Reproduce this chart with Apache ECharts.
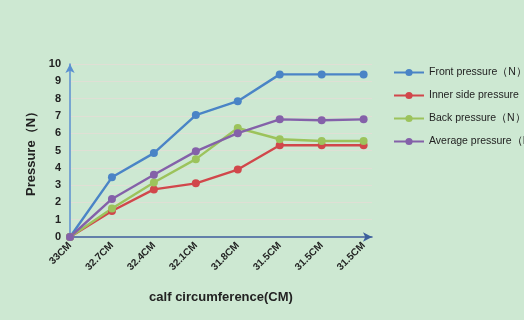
<!DOCTYPE html>
<html>
<head>
<meta charset="utf-8">
<style>
  html, body { margin: 0; padding: 0; background: #cde8d2; }
  #chart { width: 524px; height: 320px; }
</style>
<script src="https://cdn.jsdelivr.net/npm/echarts@6/dist/echarts.min.js"></script>
</head>
<body>
<div id="chart"></div>
<script>
// Calf circumference steps (x axis) and measured pressures (N)
const categories = ['33CM', '32.7CM', '32.4CM', '32.1CM', '31.8CM', '31.5CM', '31.5CM', '31.5CM'];
const frontPressure   = [0, 3.45, 4.85, 7.05, 7.85, 9.4, 9.4, 9.4];
const innerPressure   = [0, 1.5, 2.75, 3.1, 3.9, 5.3, 5.3, 5.3];
const backPressure    = [0, 1.65, 3.15, 4.5, 6.3, 5.65, 5.55, 5.55];
const averagePressure = [0, 2.2, 3.6, 4.95, 6.0, 6.8, 6.75, 6.8];
const yTicks = [0, 1, 2, 3, 4, 5, 6, 7, 8, 9, 10];

const seriesDefs = [
  { name: 'Front pressure（N）', data: frontPressure, color: '#4a84c6' },
  { name: 'Inner side pressure（N）', data: innerPressure, color: '#d1474b' },
  { name: 'Back pressure（N）', data: backPressure, color: '#9cc35c' },
  { name: 'Average pressure（N）', data: averagePressure, color: '#8461a9' }
];

const font = 'Liberation Sans, Arial, sans-serif';
const chart = echarts.init(document.getElementById('chart'), null, { renderer: 'canvas' });

chart.setOption({
  backgroundColor: '#cde8d2',
  animation: false,
  textStyle: { fontFamily: font },
  legend: {
    orient: 'vertical',
    left: 388,
    top: 62,
    itemWidth: 30,
    itemHeight: 9,
    itemGap: 12,
    textStyle: { fontSize: 10.5, color: '#222', fontFamily: font },
    data: seriesDefs.map(s => s.name)
  },
  grid: { left: 70, top: 64, right: 152, bottom: 83, containLabel: false },
  xAxis: {
    type: 'value',
    min: 0,
    max: 7.2,
    interval: 1,
    name: 'calf circumference(CM)',
    nameLocation: 'middle',
    nameGap: 54,
    nameTextStyle: { fontSize: 13, fontWeight: 'bold', color: '#222', fontFamily: font },
    axisLine: { show: true, symbol: ['none', 'arrow'], symbolSize: [7, 9], lineStyle: { color: '#3c5f9c', width: 1.5 } },
    axisTick: { show: false },
    splitLine: { show: false },
    axisLabel: {
      rotate: 45,
      fontSize: 10,
      fontWeight: 'bold',
      color: '#222',
      margin: 7,
      showMaxLabel: false,
      formatter: v => (Number.isInteger(v) && categories[v] !== undefined) ? categories[v] : ''
    }
  },
  yAxis: {
    type: 'value',
    min: yTicks[0],
    max: yTicks[yTicks.length - 1],
    interval: 1,
    name: 'Pressure（N）',
    nameLocation: 'middle',
    nameGap: 20,
    nameRotate: 90,
    nameTextStyle: { fontSize: 13, fontWeight: 'bold', color: '#222', fontFamily: font },
    axisLine: { show: true, symbol: ['none', 'arrow'], symbolSize: [7, 9], lineStyle: { color: '#5a8fd0', width: 1.5 } },
    axisTick: { show: false },
    axisLabel: { fontSize: 11, fontWeight: 'bold', color: '#222', margin: 9 },
    splitLine: { show: true, lineStyle: { color: 'rgba(240,215,215,0.55)', width: 1 } }
  },
  series: seriesDefs.map(s => ({
    name: s.name,
    type: 'line',
    data: s.data.map((v, i) => [i, v]),
    symbol: 'circle',
    symbolSize: 8,
    lineStyle: { width: 2.4, color: s.color },
    itemStyle: { color: s.color },
    emphasis: { disabled: true }
  }))
});
</script>
</body>
</html>
